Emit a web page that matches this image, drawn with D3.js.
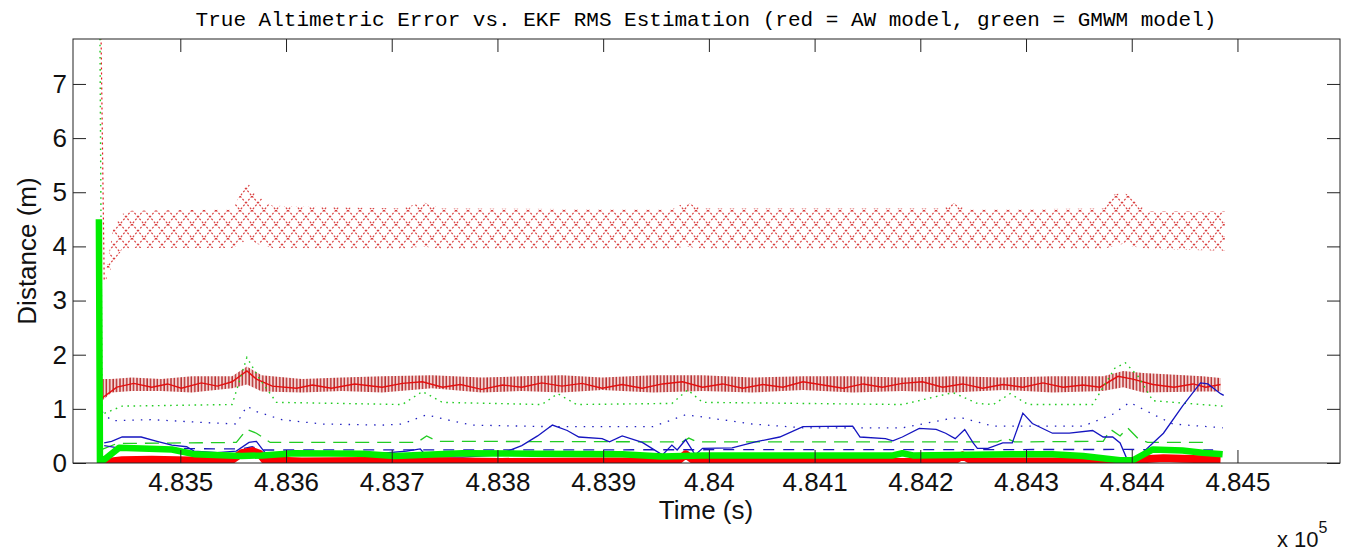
<!DOCTYPE html>
<html>
<head>
<meta charset="utf-8">
<script src="https://cdn.jsdelivr.net/npm/d3@7"></script>
<style>
  body { margin: 0; background: #fff; }
</style>
</head>
<body>
<div id="chart"></div>
<script>
// tick values
const xTicks = [483500, 483600, 483700, 483800, 483900, 484000, 484100, 484200, 484300, 484400, 484500];
const yTicks = [0, 1, 2, 3, 4, 5, 6, 7];

// AW model 3-sigma estimate (red dotted, oscillating) : [time, low, high]
const aw3Sigma = [
  [483429, 3.35, 3.45], [483437, 3.7, 4.4], [483445, 3.95, 4.6], [483454, 3.97, 4.66],
  [483549, 3.97, 4.68], [483558, 4.05, 5.0], [483563, 4.15, 5.2], [483572, 4.05, 4.95],
  [483587, 3.97, 4.75], [483710, 3.95, 4.7], [483729, 4.0, 4.82], [483748, 3.95, 4.7],
  [483965, 3.95, 4.68], [483978, 4.0, 4.82], [483994, 3.95, 4.7], [484221, 3.95, 4.7],
  [484231, 3.97, 4.8], [484245, 3.95, 4.68], [484373, 3.95, 4.7], [484382, 4.0, 4.95],
  [484392, 4.05, 5.0], [484401, 4.0, 4.9], [484415, 3.95, 4.65], [484488, 3.92, 4.65]
];
const aw3SigmaStart = [[483425, 7.95], [483428, 3.38]];

// AW model 1-sigma estimate (red, dense oscillation) : [time, low, high]
const aw1Sigma = [
  [483426, 1.15, 1.55], [483435, 1.30, 1.55], [483454, 1.33, 1.58], [483482, 1.33, 1.55],
  [483511, 1.30, 1.60], [483549, 1.38, 1.60], [483563, 1.45, 1.78], [483577, 1.32, 1.62],
  [483615, 1.30, 1.55], [483653, 1.33, 1.58], [483691, 1.30, 1.60], [483738, 1.38, 1.62],
  [483785, 1.30, 1.58], [483823, 1.33, 1.60], [483861, 1.30, 1.62], [483899, 1.35, 1.58],
  [483947, 1.30, 1.62], [483994, 1.33, 1.62], [484041, 1.30, 1.58], [484089, 1.35, 1.60],
  [484136, 1.30, 1.60], [484183, 1.33, 1.58], [484231, 1.30, 1.60], [484278, 1.35, 1.58],
  [484325, 1.30, 1.60], [484373, 1.33, 1.60], [484392, 1.40, 1.70], [484411, 1.30, 1.66],
  [484467, 1.32, 1.60], [484484, 1.32, 1.57]
];
const aw1SigmaMid = [
  [483426, 1.2], [483440, 1.4], [483456, 1.47], [483473, 1.40], [483488, 1.46], [483501, 1.38],
  [483520, 1.48], [483535, 1.42], [483549, 1.5], [483563, 1.7], [483572, 1.55], [483587, 1.42],
  [483610, 1.38], [483625, 1.44], [483643, 1.38], [483665, 1.46], [483691, 1.40], [483710, 1.47],
  [483729, 1.5], [483748, 1.40], [483765, 1.45], [483785, 1.36], [483805, 1.44], [483823, 1.40],
  [483842, 1.48], [483861, 1.42], [483880, 1.47], [483899, 1.38], [483918, 1.45], [483937, 1.38],
  [483956, 1.46], [483975, 1.50], [483994, 1.40], [484013, 1.46], [484032, 1.38], [484051, 1.45],
  [484070, 1.40], [484089, 1.50], [484108, 1.44], [484127, 1.38], [484146, 1.46], [484164, 1.40],
  [484183, 1.47], [484202, 1.50], [484221, 1.40], [484240, 1.46], [484259, 1.38], [484278, 1.45],
  [484297, 1.40], [484316, 1.48], [484335, 1.40], [484354, 1.44], [484370, 1.40], [484387, 1.6],
  [484401, 1.55], [484420, 1.45], [484440, 1.40], [484458, 1.46], [484470, 1.40], [484484, 1.45]
];

// GMWM 3-sigma (green dotted)
const gmwm3Sigma = [
  [483424, 7.95], [483426, 0.9], [483445, 1.05], [483549, 1.08], [483563, 1.95], [483575, 1.55],
  [483591, 1.12], [483710, 1.08], [483729, 1.32], [483748, 1.12], [483842, 1.08], [483857, 1.28],
  [483875, 1.08], [483965, 1.10], [483980, 1.35], [483994, 1.12], [484183, 1.08], [484231, 1.30],
  [484254, 1.10], [484269, 1.08], [484285, 1.28], [484302, 1.08], [484363, 1.08], [484384, 1.75],
  [484394, 1.85], [484406, 1.6], [484420, 1.15], [484486, 1.05]
];

// blue dotted
const blue3Sigma = [
  [483426, 0.95], [483435, 0.78], [483473, 0.80], [483520, 0.75], [483553, 0.72], [483563, 1.05],
  [483572, 0.95], [483596, 0.80], [483634, 0.72], [483691, 0.70], [483710, 0.72], [483733, 0.89],
  [483752, 0.80], [483776, 0.70], [483852, 0.67], [483947, 0.67], [483978, 0.89], [483994, 0.85],
  [484041, 0.72], [484089, 0.65], [484183, 0.65], [484231, 0.83], [484240, 0.83], [484269, 0.68],
  [484354, 0.68], [484382, 0.90], [484398, 1.12], [484420, 0.90], [484439, 0.72], [484486, 0.65]
];

// GMWM 1-sigma (green dashed)
const gmwm1Sigma = [
  [483426, 0.25], [483440, 0.36], [483553, 0.38], [483563, 0.62], [483572, 0.55], [483585, 0.38],
  [483724, 0.38], [483733, 0.50], [483743, 0.40], [483975, 0.39], [483981, 0.46], [483989, 0.39],
  [484273, 0.39], [484281, 0.46], [484289, 0.39], [484373, 0.40], [484380, 0.62], [484389, 0.50],
  [484396, 0.65], [484406, 0.45], [484415, 0.38], [484470, 0.38]
];

// blue dashed
const blue1Sigma = [
  [483428, 0.32], [483445, 0.27], [483558, 0.26], [483568, 0.30], [483577, 0.24],
  [484396, 0.25], [484477, 0.24]
];

// true altimetric error (blue solid)
const trueError = [
  [483428, 0.37], [483435, 0.40], [483445, 0.48], [483463, 0.48], [483478, 0.40], [483492, 0.33],
  [483506, 0.30], [483513, 0.22], [483535, 0.19], [483553, 0.22], [483565, 0.38], [483572, 0.40],
  [483579, 0.22], [483585, 0.10], [483606, 0.15], [483643, 0.16], [483672, 0.17], [483691, 0.18],
  [483714, 0.22], [483727, 0.26], [483733, 0.12], [483767, 0.11], [483795, 0.14], [483807, 0.20],
  [483823, 0.32], [483838, 0.50], [483852, 0.70], [483866, 0.60], [483877, 0.48], [483899, 0.45],
  [483906, 0.39], [483918, 0.50], [483937, 0.38], [483956, 0.15], [483965, 0.33], [483970, 0.24],
  [483978, 0.43], [483987, 0.15], [483994, 0.27], [484022, 0.28], [484044, 0.39], [484067, 0.48],
  [484089, 0.67], [484136, 0.68], [484143, 0.48], [484167, 0.45], [484174, 0.41], [484183, 0.48],
  [484199, 0.64], [484215, 0.62], [484224, 0.55], [484233, 0.45], [484242, 0.62], [484250, 0.37],
  [484254, 0.27], [484264, 0.27], [484278, 0.37], [484287, 0.37], [484297, 0.92], [484306, 0.73],
  [484325, 0.55], [484341, 0.55], [484363, 0.60], [484373, 0.48], [484382, 0.48], [484389, 0.37],
  [484396, 0.05], [484408, 0.15], [484430, 0.55], [484448, 1.05], [484465, 1.48], [484472, 1.46],
  [484484, 1.28], [484487, 1.25]
];

// AW model error (red thick)
const awError = [
  [483428, 0.0], [483435, 0.03], [483445, 0.05], [483473, 0.06], [483520, 0.04], [483549, 0.06],
  [483558, 0.18], [483568, 0.22], [483575, 0.17], [483580, 0.05], [483615, 0.03], [483710, 0.04],
  [483804, 0.02], [483899, 0.03], [483970, 0.03], [483978, 0.16], [483987, 0.03], [484089, 0.03],
  [484183, 0.02], [484231, 0.03], [484240, 0.14], [484250, 0.03], [484373, 0.03], [484401, 0.02],
  [484411, 0.07], [484430, 0.09], [484448, 0.08], [484467, 0.07], [484484, 0.06]
];

// GMWM model error (green thick)
const gmwmError = [
  [483423, 4.5], [483424, 0.0], [483442, 0.28], [483492, 0.25], [483514, 0.16], [483558, 0.13],
  [483577, 0.14], [483608, 0.18], [483672, 0.17], [483703, 0.13], [483767, 0.18], [483833, 0.17],
  [483918, 0.16], [483956, 0.12], [483994, 0.14], [484089, 0.14], [484174, 0.14], [484183, 0.18],
  [484193, 0.14], [484287, 0.16], [484325, 0.16], [484354, 0.13], [484389, 0.05], [484401, 0.05],
  [484420, 0.25], [484448, 0.23], [484467, 0.19], [484486, 0.16]
];

const W = 1352, H = 555;
const x = d3.scaleLinear().domain([483398.5, 484597]).range([73, 1340]);
const y = d3.scaleLinear().domain([0, 7.83]).range([463, 39]);

const svg = d3.select("#chart").append("svg").attr("width", W).attr("height", H);
svg.append("rect").attr("width", W).attr("height", H).attr("fill", "#fff");

const defs = svg.append("defs");
defs.append("clipPath").attr("id", "plotClip").append("rect")
  .attr("x", 73).attr("y", 39).attr("width", 1340 - 73).attr("height", 463 - 39);

// lattice look of the fast oscillating dotted line
let lat = defs.append("pattern").attr("id", "lattice")
  .attr("patternUnits", "userSpaceOnUse").attr("width", 12).attr("height", 14);
lat.append("path").attr("d", "M0,0L12,14M12,0L0,14")
  .attr("stroke", "#d83c3c").attr("stroke-width", 1.2).attr("stroke-dasharray", "2,1.8").attr("fill", "none");

// vertical hatch look of the dense 1-sigma line
let hatch = defs.append("pattern").attr("id", "hatch")
  .attr("patternUnits", "userSpaceOnUse").attr("width", 3.4).attr("height", 10);
hatch.append("rect").attr("width", 3.4).attr("height", 10).attr("fill", "#f6dcdc");
hatch.append("line").attr("x1", 1).attr("x2", 1).attr("y1", 0).attr("y2", 10)
  .attr("stroke", "#b82e2e").attr("stroke-width", 1.5);

const line = d3.line().x(d => x(d[0])).y(d => y(d[1]));
const band = d3.area().x(d => x(d[0])).y0(d => y(d[1])).y1(d => y(d[2]));

const plot = svg.append("g").attr("clip-path", "url(#plotClip)");

plot.append("path").attr("d", band(aw3Sigma)).attr("fill", "url(#lattice)");
plot.append("path").attr("d", line(aw3SigmaStart)).attr("fill", "none")
  .attr("stroke", "#e02020").attr("stroke-width", 1.2).attr("stroke-dasharray", "2,3");

plot.append("path").attr("d", band(aw1Sigma)).attr("fill", "url(#hatch)");
plot.append("path").attr("d", line(aw1SigmaMid)).attr("fill", "none")
  .attr("stroke", "#e41010").attr("stroke-width", 1.4);

plot.append("path").attr("d", line(gmwm3Sigma)).attr("fill", "none")
  .attr("stroke", "#22cc22").attr("stroke-width", 1.4).attr("stroke-dasharray", "1.6,4.5");
plot.append("path").attr("d", line(blue3Sigma)).attr("fill", "none")
  .attr("stroke", "#2020c0").attr("stroke-width", 1.3).attr("stroke-dasharray", "1.5,7");
plot.append("path").attr("d", line(gmwm1Sigma)).attr("fill", "none")
  .attr("stroke", "#22cc22").attr("stroke-width", 1.3).attr("stroke-dasharray", "14,8");
plot.append("path").attr("d", line(blue1Sigma)).attr("fill", "none")
  .attr("stroke", "#1a1ab8").attr("stroke-width", 1.3).attr("stroke-dasharray", "11,9");
plot.append("path").attr("d", line(trueError)).attr("fill", "none")
  .attr("stroke", "#1515c0").attr("stroke-width", 1.3);

plot.append("path").attr("d", line(awError)).attr("fill", "none")
  .attr("stroke", "#ff0000").attr("stroke-width", 8).attr("stroke-linejoin", "round");
plot.append("path").attr("d", line(gmwmError)).attr("fill", "none")
  .attr("stroke", "#00ee00").attr("stroke-width", 6.5).attr("stroke-linejoin", "round");

// axes, ticks pointing inward like matlab
const fmtX = d => String(+(d / 1e5).toFixed(3));
const tickFont = "'Liberation Sans', Arial, sans-serif";

let gB = svg.append("g").attr("transform", `translate(0,${y(0)})`)
  .call(d3.axisBottom(x).tickValues(xTicks).tickSize(-13).tickPadding(10).tickFormat(fmtX));
let gT = svg.append("g").attr("transform", `translate(0,${y.range()[1]})`)
  .call(d3.axisTop(x).tickValues(xTicks).tickSize(-13).tickFormat(""));
let gL = svg.append("g").attr("transform", `translate(${x.range()[0]},0)`)
  .call(d3.axisLeft(y).tickValues(yTicks).tickSize(-13).tickPadding(6).tickFormat(d3.format("d")));
let gR = svg.append("g").attr("transform", `translate(${x.range()[1]},0)`)
  .call(d3.axisRight(y).tickValues(yTicks).tickSize(-13).tickFormat(""));

[gB, gT, gL, gR].forEach(g => {
  g.select(".domain").remove();
  g.selectAll("line").attr("stroke", "#222");
  g.selectAll("text").attr("font-family", tickFont).attr("font-size", 26).attr("fill", "#111");
});

svg.append("rect").attr("x", 73).attr("y", 39).attr("width", 1340 - 73).attr("height", 463 - 39)
  .attr("fill", "none").attr("stroke", "#222").attr("stroke-width", 1);

svg.append("text").attr("x", 706).attr("y", 26).attr("text-anchor", "middle")
  .attr("font-family", "'Liberation Mono', 'Courier New', monospace").attr("font-size", 21)
  .attr("fill", "#000")
  .text("True Altimetric Error vs. EKF RMS Estimation (red = AW model, green = GMWM model)");

svg.append("text").attr("transform", "translate(36,251) rotate(-90)").attr("text-anchor", "middle")
  .attr("font-family", tickFont).attr("font-size", 26).attr("fill", "#111").text("Distance (m)");

svg.append("text").attr("x", 706).attr("y", 519).attr("text-anchor", "middle")
  .attr("font-family", tickFont).attr("font-size", 26).attr("fill", "#111").text("Time (s)");

let exp = svg.append("text").attr("x", 1277).attr("y", 547)
  .attr("font-family", tickFont).attr("font-size", 22).attr("fill", "#111");
exp.append("tspan").text("x 10");
exp.append("tspan").attr("dy", -14).attr("font-size", 16).text("5");
</script>
</body>
</html>
